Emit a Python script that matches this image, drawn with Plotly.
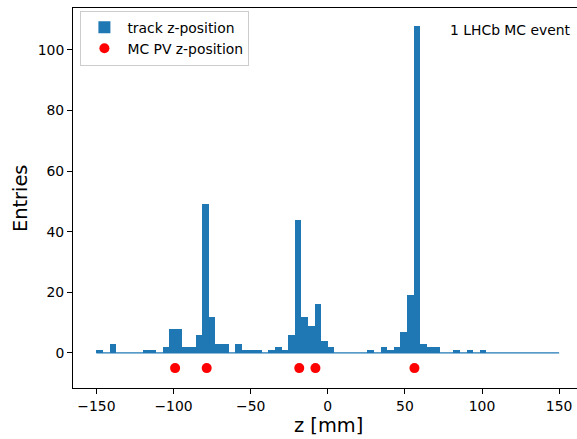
import numpy as np
import plotly.graph_objects as go

# histogram: 70 bins from -150 to 150 mm
bin_lo, bin_hi, n_bins = -150.0, 150.0, 70
track_counts = [1, 0, 3, 0, 0, 0, 0, 1, 1, 0,
                2, 8, 8, 2, 2, 6, 49, 12, 3, 3,
                0, 3, 1, 1, 1, 0, 1, 2, 1, 6,
                44, 12, 9, 16, 4, 2, 0, 0, 0, 0,
                0, 1, 0, 2, 1, 2, 7, 19, 108, 3,
                2, 2, 0, 0, 1, 0, 1, 0, 1, 0,
                0, 0, 0, 0, 0, 0, 0, 0, 0, 0]
pv_z = [-99.0, -78.5, -18.5, -8.0, 56.2]
pv_y = [-5, -5, -5, -5, -5]
x_ticks = [-150, -100, -50, 0, 50, 100, 150]
y_ticks = [0, 20, 40, 60, 80, 100]

edges = np.linspace(bin_lo, bin_hi, n_bins + 1)
centers = 0.5 * (edges[:-1] + edges[1:])
bw = edges[1] - edges[0]

BLUE = "#1f77b4"
FONT = "DejaVu Sans"

fig = go.Figure()
# baseline of the histogram (zero-height bins)
fig.add_trace(go.Scatter(x=[edges[0], edges[-1]], y=[0, 0], mode="lines",
                         line=dict(color=BLUE, width=1.2), showlegend=False,
                         hoverinfo="skip"))
fig.add_trace(go.Bar(x=centers, y=track_counts, width=bw, name="track z-position",
                     marker=dict(color=BLUE, line=dict(width=0))))
fig.add_trace(go.Scatter(x=pv_z, y=pv_y, mode="markers", name="MC PV z-position",
                         marker=dict(color="red", size=10)))

fig.update_layout(
    width=577, height=439, autosize=False,
    margin=dict(l=73, r=0, t=8, b=51, pad=0),
    plot_bgcolor="white", paper_bgcolor="white",
    bargap=0,
    font=dict(family=FONT, size=13.9, color="black"),
    legend=dict(x=0.0147, y=0.993, xanchor="left", yanchor="top", itemwidth=36,
                bgcolor="rgba(255,255,255,0.8)", bordercolor="#cccccc", borderwidth=1,
                font=dict(family=FONT, size=13.9)),
    annotations=[
        dict(text="1 LHCb MC event", xref="paper", yref="paper", x=0.992, y=0.943,
             xanchor="right", yanchor="middle", showarrow=False,
             font=dict(family=FONT, size=13.9)),
        dict(text="Entries", xref="paper", yref="paper", x=-0.105, y=0.5,
             xanchor="center", yanchor="middle", textangle=-90, showarrow=False,
             font=dict(family=FONT, size=19.4)),
        dict(text="z [mm]", xref="paper", yref="paper", x=0.506, y=-0.098,
             xanchor="center", yanchor="middle", showarrow=False,
             font=dict(family=FONT, size=19.4)),
    ],
)
fig.update_xaxes(range=[-165.2, 161.6], tickvals=x_ticks, ticks="outside", ticklen=5,
                 tickwidth=1, tickcolor="black", showline=True, linecolor="black",
                 linewidth=1, mirror=True, showgrid=False, zeroline=False,
                 tickfont=dict(family=FONT, size=13.9))
fig.update_yaxes(range=[-11.56, 113.8], tickvals=y_ticks, ticks="outside", ticklen=5,
                 tickwidth=1, tickcolor="black", showline=True, linecolor="black",
                 linewidth=1, mirror=False, showgrid=False, zeroline=False,
                 tickfont=dict(family=FONT, size=13.9))

fig.write_html("out.html", config={"displayModeBar": False},
               post_script="document.body.style.margin='0';document.body.style.overflow='hidden';")
